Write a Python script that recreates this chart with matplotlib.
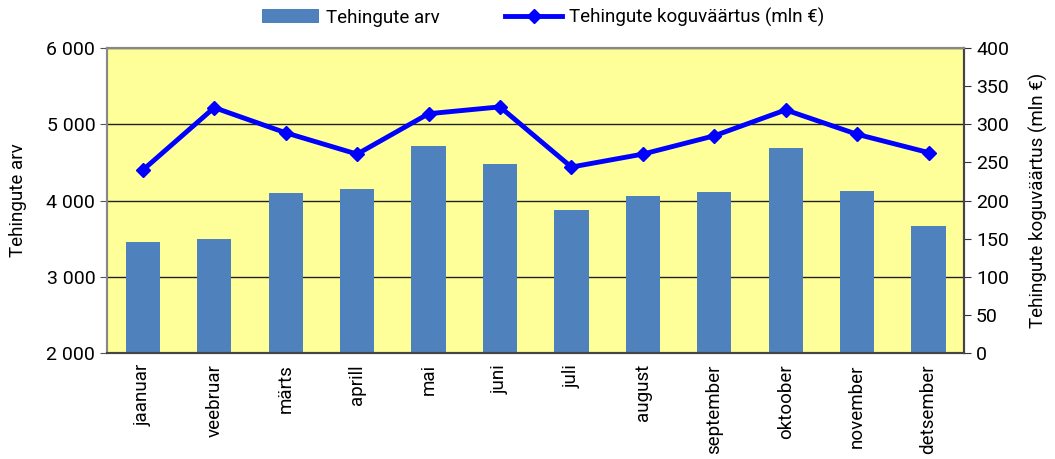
import numpy as np
import matplotlib.pyplot as plt
from matplotlib.ticker import FuncFormatter

plt.rcParams['font.family'] = ['Roboto', 'DejaVu Sans']

months = ['jaanuar', 'veebruar', 'märts', 'aprill', 'mai', 'juni',
          'juli', 'august', 'september', 'oktoober', 'november', 'detsember']
deals_count = [3455, 3495, 4094, 4147, 4715, 4483, 3871, 4055, 4108, 4693, 4121, 3662]
deals_value = [240, 322, 289, 261, 314, 323, 244, 261, 285, 319, 287, 263]

fig = plt.figure(figsize=(10.55, 4.59), dpi=100)
ax = fig.add_axes([0.1015, 0.231, 0.8125, 0.664])
ax2 = ax.twinx()

x = np.arange(len(months))
ax.set_facecolor('#FFFF99')
ax.bar(x, deals_count, width=0.48, color='#4F81BD', zorder=2,
       label='Tehingute arv')
ax.set_ylim(2000, 6000)
ax.set_xlim(-0.5, len(months) - 0.5)
ax.set_yticks([2000, 3000, 4000, 5000, 6000])
ax.yaxis.set_major_formatter(FuncFormatter(lambda v, p: f'{int(v):,}'.replace(',', ' ')))
ax.grid(axis='y', color='#222222', linewidth=1.0, zorder=1)
ax.set_axisbelow(True)
ax.set_xticks(x)
ax.set_xticklabels(months, rotation=90, fontsize=13.5)
ax.tick_params(axis='x', length=0, pad=8)
ax.tick_params(axis='y', labelsize=14, length=5, color='#555555')
ax.set_ylabel('Tehingute arv', fontsize=13.5, labelpad=14)

ax2.plot(x, deals_value, color='#0000FF', linewidth=3.5, marker='D',
         markersize=7, zorder=3, label='Tehingute koguväärtus (mln €)')
ax2.set_ylim(0, 400)
ax2.set_yticks(np.arange(0, 401, 50))
ax2.tick_params(axis='y', labelsize=14, length=5, color='#333333')
ax2.set_ylabel('Tehingute koguväärtus (mln €)', fontsize=13.5, labelpad=14)

for a in (ax, ax2):
    a.spines['top'].set_color('#888888')
    a.spines['left'].set_color('#888888')
    a.spines['right'].set_color('#444444')
    a.spines['bottom'].set_color('#444444')
    for s in a.spines.values():
        s.set_linewidth(1.5)

h1, l1 = ax.get_legend_handles_labels()
h2, l2 = ax2.get_legend_handles_labels()
fig.legend(h1 + h2, l1 + l2, loc='upper center', bbox_to_anchor=(0.515, 1.02),
           ncol=2, frameon=False, fontsize=13.5, handlelength=3.0,
           handletextpad=0.4, columnspacing=3.5)

fig.savefig('out.png', dpi=100)
